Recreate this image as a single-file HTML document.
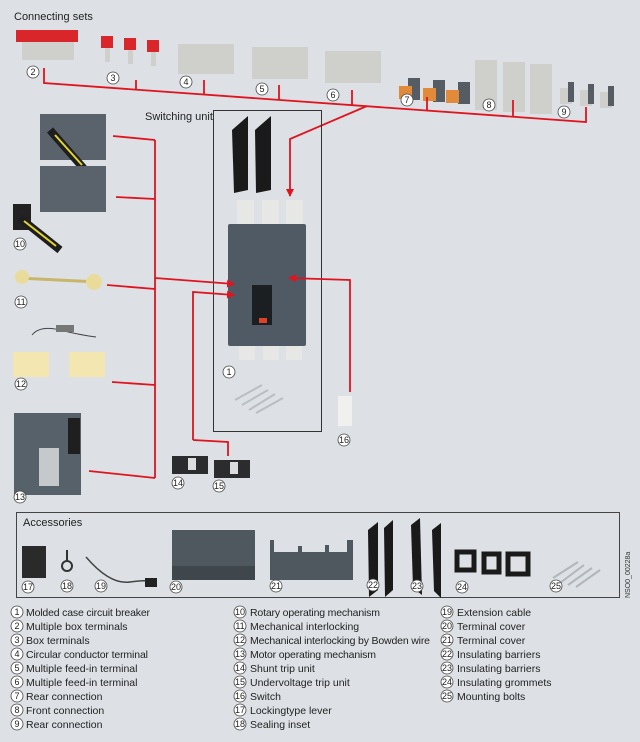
<!DOCTYPE html>
<html><head><meta charset="utf-8"><style>
body{margin:0;width:640px;height:742px;background:#dde1e5;overflow:hidden;font-family:"Liberation Sans",sans-serif}
svg{display:block}
.t{font-size:11px;fill:#222}
.l{font-size:10.5px;fill:#222}
.n{font-size:9px;fill:#222;text-anchor:middle}
</style></head><body>
<svg width="640" height="742" viewBox="0 0 640 742">
<defs>
<g id="c"><circle r="6" fill="#fff" stroke="#444" stroke-width="0.8"/></g>
<marker id="ar" markerWidth="8" markerHeight="8" refX="7" refY="4" orient="auto" markerUnits="userSpaceOnUse"><path d="M0,0 L8,4 L0,8z" fill="#e0141e"/></marker>
</defs>
<text x="14" y="20" class="t">Connecting sets</text>
<g fill="#d8262b"><rect x="16" y="30" width="62" height="12"/><rect x="101" y="36" width="12" height="12"/><rect x="124" y="38" width="12" height="12"/><rect x="147" y="40" width="12" height="12"/></g>
<g fill="#cfcfcb"><rect x="22" y="42" width="52" height="18"/><rect x="105" y="48" width="5" height="14"/><rect x="128" y="50" width="5" height="14"/><rect x="151" y="52" width="5" height="14"/>
<rect x="178" y="44" width="56" height="30"/><rect x="252" y="47" width="56" height="32"/><rect x="325" y="51" width="56" height="32"/>
<rect x="475" y="60" width="22" height="50"/><rect x="503" y="62" width="22" height="50"/><rect x="530" y="64" width="22" height="50"/>
<rect x="560" y="88" width="12" height="16"/><rect x="580" y="90" width="12" height="16"/><rect x="600" y="92" width="12" height="16"/></g>
<g fill="#555c63"><rect x="408" y="78" width="12" height="22"/><rect x="433" y="80" width="12" height="22"/><rect x="458" y="82" width="12" height="22"/>
<rect x="568" y="82" width="6" height="20"/><rect x="588" y="84" width="6" height="20"/><rect x="608" y="86" width="6" height="20"/></g>
<g fill="#e08a3a"><rect x="399" y="86" width="13" height="13"/><rect x="423" y="88" width="13" height="13"/><rect x="446" y="90" width="13" height="13"/></g>
<g stroke="#e0141e" stroke-width="1.8" fill="none">
<polyline points="44,68 44,83 586,122 586,107"/>
<line x1="136" y1="80" x2="136" y2="89.5"/><line x1="204" y1="80" x2="204" y2="94.3"/><line x1="279" y1="85" x2="279" y2="99.6"/><line x1="352" y1="90" x2="352" y2="104.7"/><line x1="427" y1="97" x2="427" y2="110"/><line x1="513" y1="100" x2="513" y2="116"/>
<polyline points="367,106 290,139 290,196" marker-end="url(#ar)"/>
</g>
<text x="145" y="120" class="t">Switching unit</text>
<rect x="213.5" y="110.5" width="108" height="321" fill="none" stroke="#333" stroke-width="1"/>
<polygon points="232,130 248,116 248,190 234,193" fill="#1a1a1a"/><polygon points="255,130 271,116 271,190 256,193" fill="#1a1a1a"/>
<g fill="#e7e7e5"><rect x="237" y="200" width="17" height="24"/><rect x="262" y="200" width="17" height="24"/><rect x="286" y="200" width="17" height="24"/>
<rect x="239" y="344" width="16" height="16"/><rect x="263" y="344" width="16" height="16"/><rect x="286" y="344" width="16" height="16"/></g>
<rect x="228" y="224" width="78" height="122" rx="2" fill="#4f5a65"/>
<rect x="252" y="285" width="20" height="40" fill="#1c1f22"/><rect x="259" y="318" width="8" height="5" fill="#e0402a"/>
<g stroke="#b9bec2" stroke-width="2"><line x1="235" y1="400" x2="262" y2="385"/><line x1="242" y1="405" x2="268" y2="390"/><line x1="249" y1="410" x2="275" y2="394"/><line x1="256" y1="413" x2="283" y2="398"/></g>
<rect x="40" y="114" width="66" height="46" fill="#5a636c"/>
<line x1="50" y1="130" x2="85" y2="170" stroke="#1e1e1e" stroke-width="8"/><line x1="55" y1="135" x2="82" y2="165" stroke="#e3d62a" stroke-width="2"/>
<rect x="40" y="166" width="66" height="46" fill="#5a636c"/>
<rect x="13" y="204" width="18" height="26" fill="#222"/>
<line x1="20" y1="218" x2="60" y2="250" stroke="#1e1e1e" stroke-width="8"/><line x1="24" y1="221" x2="56" y2="246" stroke="#e3d62a" stroke-width="2"/>
<line x1="18" y1="278" x2="98" y2="282" stroke="#c9b66a" stroke-width="3"/>
<circle cx="22" cy="277" r="7" fill="#e9dc9a"/><circle cx="94" cy="282" r="8" fill="#e9dc9a"/>
<path d="M32,335 Q40,325 60,330 T96,337" stroke="#444" fill="none"/><rect x="56" y="325" width="18" height="7" fill="#777"/>
<rect x="13" y="352" width="36" height="25" fill="#f3e6b0"/><rect x="69" y="352" width="36" height="25" fill="#f3e6b0"/>
<rect x="14" y="413" width="67" height="82" fill="#57616a"/><rect x="39" y="448" width="20" height="38" fill="#c5c9cc"/><rect x="68" y="418" width="12" height="36" fill="#1f1f1f"/>
<rect x="172" y="456" width="36" height="18" fill="#2a2c2e"/><rect x="188" y="458" width="8" height="12" fill="#ddd"/>
<rect x="214" y="460" width="36" height="18" fill="#2a2c2e"/><rect x="230" y="462" width="8" height="12" fill="#ddd"/>
<rect x="338" y="396" width="14" height="30" fill="#f0f0ee"/>
<g stroke="#e0141e" stroke-width="1.8" fill="none">
<line x1="155" y1="140" x2="155" y2="478"/>
<line x1="113" y1="136" x2="155" y2="140"/><line x1="116" y1="197" x2="155" y2="199"/><line x1="107" y1="285" x2="155" y2="289"/><line x1="112" y1="382" x2="155" y2="385"/><line x1="89" y1="471" x2="155" y2="478"/>
<polyline points="155,278 234,284" marker-end="url(#ar)"/>
<polyline points="193,440 193,292 234,295" marker-end="url(#ar)"/>
<polyline points="193,440 228,442 228,456"/>
<polyline points="350,392 350,280 289,278" marker-end="url(#ar)"/>
</g>
<g>
<use href="#c" x="33" y="72"/><text x="33" y="75" class="n">2</text>
<use href="#c" x="113" y="78"/><text x="113" y="81" class="n">3</text>
<use href="#c" x="186" y="82"/><text x="186" y="85" class="n">4</text>
<use href="#c" x="262" y="89"/><text x="262" y="92" class="n">5</text>
<use href="#c" x="333" y="95"/><text x="333" y="98" class="n">6</text>
<use href="#c" x="407" y="100"/><text x="407" y="103" class="n">7</text>
<use href="#c" x="489" y="105"/><text x="489" y="108" class="n">8</text>
<use href="#c" x="564" y="112"/><text x="564" y="115" class="n">9</text>
<use href="#c" x="229" y="372"/><text x="229" y="375" class="n">1</text>
<use href="#c" x="20" y="244"/><text x="20" y="247" class="n">10</text>
<use href="#c" x="21" y="302"/><text x="21" y="305" class="n">11</text>
<use href="#c" x="21" y="384"/><text x="21" y="387" class="n">12</text>
<use href="#c" x="20" y="497"/><text x="20" y="500" class="n">13</text>
<use href="#c" x="178" y="483"/><text x="178" y="486" class="n">14</text>
<use href="#c" x="219" y="486"/><text x="219" y="489" class="n">15</text>
<use href="#c" x="344" y="440"/><text x="344" y="443" class="n">16</text>
</g>
<rect x="16.5" y="512.5" width="603" height="85" fill="none" stroke="#444" stroke-width="1"/>
<text x="23" y="526" class="t">Accessories</text>
<rect x="22" y="546" width="24" height="32" fill="#2a2a2a"/>
<circle cx="67" cy="566" r="5" fill="none" stroke="#333" stroke-width="2"/><line x1="67" y1="550" x2="67" y2="562" stroke="#333" stroke-width="2"/>
<path d="M86,557 Q110,585 130,582 T148,583" stroke="#444" fill="none" stroke-width="1.5"/><rect x="145" y="578" width="12" height="9" fill="#222"/>
<rect x="172" y="530" width="83" height="50" fill="#50585f"/><rect x="172" y="566" width="83" height="14" fill="#3f464c"/>
<path d="M270,540 L274,540 L274,552 L298,552 L298,546 L302,546 L302,552 L325,552 L325,545 L329,545 L329,552 L347,552 L347,540 L353,540 L353,580 L270,580z" fill="#50585f"/>
<polygon points="368,530 378,522 378,590 369,597" fill="#1a1a1a"/><polygon points="384,528 393,520 393,590 385,597" fill="#1a1a1a"/>
<polygon points="411,525 420,518 422,595 413,588" fill="#1a1a1a"/><polygon points="432,530 441,523 441,598 434,591" fill="#1a1a1a"/>
<g fill="none" stroke="#1a1a1a" stroke-width="5"><rect x="457" y="552" width="17" height="18"/><rect x="484" y="554" width="15" height="18"/><rect x="508" y="554" width="20" height="20"/></g>
<g stroke="#b0b6ba" stroke-width="2"><line x1="553" y1="578" x2="578" y2="562"/><line x1="560" y1="583" x2="584" y2="565"/><line x1="568" y1="585" x2="592" y2="568"/><line x1="576" y1="587" x2="600" y2="570"/></g>
<g>
<use href="#c" x="28" y="587"/><text x="28" y="590" class="n">17</text>
<use href="#c" x="67" y="586"/><text x="67" y="589" class="n">18</text>
<use href="#c" x="101" y="586"/><text x="101" y="589" class="n">19</text>
<use href="#c" x="176" y="587"/><text x="176" y="590" class="n">20</text>
<use href="#c" x="276" y="586"/><text x="276" y="589" class="n">21</text>
<use href="#c" x="373" y="585"/><text x="373" y="588" class="n">22</text>
<use href="#c" x="417" y="586"/><text x="417" y="589" class="n">23</text>
<use href="#c" x="462" y="587"/><text x="462" y="590" class="n">24</text>
<use href="#c" x="556" y="586"/><text x="556" y="589" class="n">25</text>
</g>
<text transform="translate(630,598) rotate(-90)" style="font-size:7px;fill:#333">NSO0_00228a</text>
<g class="l">
<text x="26" y="616" textLength="124">Molded case circuit breaker</text>
<text x="26" y="630">Multiple box terminals</text>
<text x="26" y="644">Box terminals</text>
<text x="26" y="658" textLength="122">Circular conductor terminal</text>
<text x="26" y="672">Multiple feed-in terminal</text>
<text x="26" y="686">Multiple feed-in terminal</text>
<text x="26" y="700">Rear connection</text>
<text x="26" y="714">Front connection</text>
<text x="26" y="728">Rear connection</text>
<text x="250" y="616" textLength="130">Rotary operating mechanism</text>
<text x="250" y="630">Mechanical interlocking</text>
<text x="250" y="644" textLength="180">Mechanical interlocking by Bowden wire</text>
<text x="250" y="658" textLength="126">Motor operating mechanism</text>
<text x="250" y="672">Shunt trip unit</text>
<text x="250" y="686">Undervoltage trip unit</text>
<text x="250" y="700">Switch</text>
<text x="250" y="714">Lockingtype lever</text>
<text x="250" y="728">Sealing inset</text>
<text x="457" y="616">Extension cable</text>
<text x="457" y="630">Terminal cover</text>
<text x="457" y="644">Terminal cover</text>
<text x="457" y="658">Insulating barriers</text>
<text x="457" y="672">Insulating barriers</text>
<text x="457" y="686">Insulating grommets</text>
<text x="457" y="700">Mounting bolts</text>
</g>
<g>
<use href="#c" x="17" y="612"/><text x="17" y="615" class="n">1</text>
<use href="#c" x="17" y="626"/><text x="17" y="629" class="n">2</text>
<use href="#c" x="17" y="640"/><text x="17" y="643" class="n">3</text>
<use href="#c" x="17" y="654"/><text x="17" y="657" class="n">4</text>
<use href="#c" x="17" y="668"/><text x="17" y="671" class="n">5</text>
<use href="#c" x="17" y="682"/><text x="17" y="685" class="n">6</text>
<use href="#c" x="17" y="696"/><text x="17" y="699" class="n">7</text>
<use href="#c" x="17" y="710"/><text x="17" y="713" class="n">8</text>
<use href="#c" x="17" y="724"/><text x="17" y="727" class="n">9</text>
<use href="#c" x="240" y="612"/><text x="240" y="615" class="n">10</text>
<use href="#c" x="240" y="626"/><text x="240" y="629" class="n">11</text>
<use href="#c" x="240" y="640"/><text x="240" y="643" class="n">12</text>
<use href="#c" x="240" y="654"/><text x="240" y="657" class="n">13</text>
<use href="#c" x="240" y="668"/><text x="240" y="671" class="n">14</text>
<use href="#c" x="240" y="682"/><text x="240" y="685" class="n">15</text>
<use href="#c" x="240" y="696"/><text x="240" y="699" class="n">16</text>
<use href="#c" x="240" y="710"/><text x="240" y="713" class="n">17</text>
<use href="#c" x="240" y="724"/><text x="240" y="727" class="n">18</text>
<use href="#c" x="447" y="612"/><text x="447" y="615" class="n">19</text>
<use href="#c" x="447" y="626"/><text x="447" y="629" class="n">20</text>
<use href="#c" x="447" y="640"/><text x="447" y="643" class="n">21</text>
<use href="#c" x="447" y="654"/><text x="447" y="657" class="n">22</text>
<use href="#c" x="447" y="668"/><text x="447" y="671" class="n">23</text>
<use href="#c" x="447" y="682"/><text x="447" y="685" class="n">24</text>
<use href="#c" x="447" y="696"/><text x="447" y="699" class="n">25</text>
</g>
</svg>
</body></html>
